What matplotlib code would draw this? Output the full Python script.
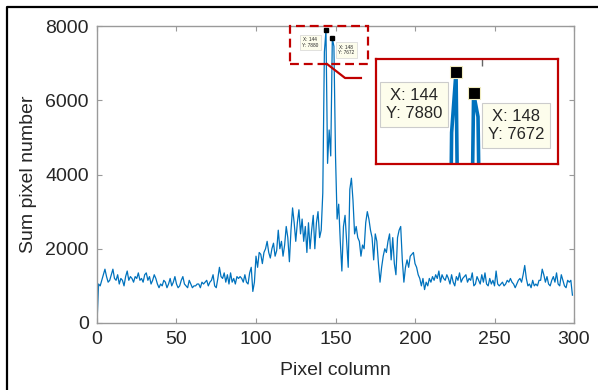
import matplotlib
matplotlib.use('Agg')
import matplotlib.pyplot as plt
from matplotlib.patches import Rectangle
from matplotlib.lines import Line2D
import numpy as np

plt.rcParams['font.family'] = ['Liberation Sans', 'DejaVu Sans']

# Sum of pixels per column (columns 0..300)
sum_pixels = [
    0, 1050, 1000, 1150, 1300, 1450, 1250, 1100, 1150, 1300,
    1450, 1200, 1150, 1300, 1050, 1200, 1150, 1000, 1250, 1400,
    1150, 1250, 1200, 1100, 1250, 1200, 1350, 1150, 1200, 1100,
    1300, 1350, 1150, 1250, 1050, 1150, 1300, 1200, 1050, 950,
    1050, 1000, 1150, 1100, 950, 1050, 1200, 1000, 1100, 1250,
    1050, 950, 1000, 1150, 1250, 1050, 1000, 950, 1150, 1050,
    950, 1000, 1000, 1050, 1050, 950, 1100, 1050, 1100, 1150,
    1000, 1100, 1150, 1300, 1000, 950, 1200, 1500, 1250, 1200,
    1350, 1100, 1300, 1050, 1350, 1100, 1200, 1050, 1250, 1200,
    1250, 1200, 1100, 1300, 1100, 1050, 1350, 1500, 850, 1100,
    1800, 1500, 1900, 1850, 1600, 1900, 2000, 2200, 1900, 1750,
    2000, 2150, 1800, 1950, 2500, 2000, 2200, 1800, 2100, 2600,
    2300, 1650, 2500, 3100, 2700, 2200, 2700, 3050, 2400, 2800,
    2200, 2600, 1900, 2700, 2000, 2500, 2900, 2000, 2700, 3000,
    2300, 2500, 3500, 7300, 7880, 4300, 5200, 4500, 7672, 7450,
    4500, 2800, 3200, 2200, 1400, 2600, 2900, 2200, 1500, 3600,
    3900, 3300, 2400, 2600, 2300, 2200, 1800, 2100, 2000, 2700,
    3000, 2800, 2500, 2300, 1700, 2400, 2200, 1600, 1100, 1500,
    1800, 2000, 1900, 2200, 2400, 1700, 2300, 1600, 1300, 2300,
    2500, 2600, 1700, 1100, 1500, 1700, 1500, 1800, 1850, 1900,
    1600, 1500, 1300, 1200, 1000, 1200, 900, 1100, 1000, 1200,
    1100, 1250, 1150, 1300, 1200, 1400, 1100, 1300, 1200, 1150,
    1300, 1200, 1050, 1300, 1100, 1000, 1250, 1150, 1350, 1100,
    1200, 1250, 1300, 1100, 1200, 1150, 1350, 1000, 1050, 1250,
    1150, 1050, 1300, 1100, 1350, 1050, 1000, 1200, 1050, 1150,
    1000, 1400, 1050, 1000, 1050, 1100, 1000, 1050, 1150, 1100,
    1200, 1100, 1050, 950, 1050, 1150, 1200, 1100, 1300, 1550,
    1200, 1000, 1050, 950, 1150, 1000, 1050, 1000, 1150, 1150,
    1450, 1300, 1100, 1250, 1050, 1000, 1150, 1250, 1100, 1350,
    1050, 1000, 1300, 1150, 1000, 950, 1150, 1100, 1150, 750,
]
pixel_column = np.arange(len(sum_pixels))

# data tips
tip_x = [144, 148]
tip_y = [7880, 7672]
tip_labels = ['X: 144\nY: 7880', 'X: 148\nY: 7672']

blue = '#0072BD'
red = '#c00000'
gray = '#9a9a9a'
txt = '#262626'

fig = plt.figure(figsize=(5.98, 3.90), dpi=100)
ax = fig.add_axes([0.1622, 0.1718, 0.7977, 0.7615])

ax.plot(pixel_column, sum_pixels, color=blue, lw=0.9)
ax.plot(tip_x, tip_y, 's', color='black', ms=2.5, ls='none')
ax.set_xlim(0, 300)
ax.set_ylim(0, 8000)
ax.set_xticks(range(0, 301, 50))
ax.set_yticks(range(0, 8001, 2000))
ax.tick_params(direction='in', length=3.5, width=0.8, color=gray,
               labelsize=14, labelcolor=txt, top=True, right=True)
ax.tick_params(axis='x', pad=6)
ax.tick_params(axis='y', pad=6)
for s in ax.spines.values():
    s.set_color(gray)
    s.set_linewidth(1.0)
ax.set_xlabel('Pixel column', fontsize=14, color=txt, labelpad=10)
ax.set_ylabel('Sum pixel number', fontsize=14, color=txt, labelpad=6)

# small data tips on the main axes
tip_centers = [(134, 7556), (156.9, 7354)]
for (cx, cy), lab in zip(tip_centers, tip_labels):
    ax.text(cx, cy, lab, fontsize=3.4, ha='center', va='center', color=txt,
            bbox=dict(boxstyle='square,pad=0.5', fc='#fdfdec', ec='#cccccc', lw=0.4))

# dashed zoom region and connector
ax.add_patch(Rectangle((121.4, 6976), 49, 1024, fill=False, ec=red, lw=1.6,
                       ls=(0, (4, 2.2)), clip_on=False, zorder=5))
ax.plot([144.7, 156, 166], [6976, 6600, 6600], color=red, lw=1.6, clip_on=False)

# magnified inset
ins = fig.add_axes([0.6288, 0.5795, 0.3043, 0.2692])
ins.plot(pixel_column, sum_pixels, color=blue, lw=2.6)
ins.plot(tip_x, tip_y, 's', color='black', ms=8, mec='#f0ecc0', mew=0.8, ls='none')
ins.set_xlim(125.8, 167.2)
ins.set_ylim(7000, 8000)
ins.set_xticks([150])
ins.set_yticks([])
ins.tick_params(direction='in', length=5, width=1.0, color='#666666',
                bottom=False, top=True, labelbottom=False, labeltop=False)
for s in ins.spines.values():
    s.set_color(red)
    s.set_linewidth(1.6)
ins_centers = [(0.209, 0.567), (0.769, 0.367)]
for (cx, cy), lab in zip(ins_centers, tip_labels):
    ins.text(cx, cy, lab, transform=ins.transAxes, fontsize=12, ha='center',
             va='center', color=txt, linespacing=1.25,
             bbox=dict(boxstyle='square,pad=0.35', fc='#fdfdec', ec='#cccccc', lw=0.8))

# black frame at top and left of the screenshot
fig.add_artist(Line2D([6.5 / 598, 6.5 / 598, 1], [0, 1 - 7 / 390, 1 - 7 / 390],
                      color='black', lw=1.6, transform=fig.transFigure))

fig.savefig('out.png', dpi=100)
